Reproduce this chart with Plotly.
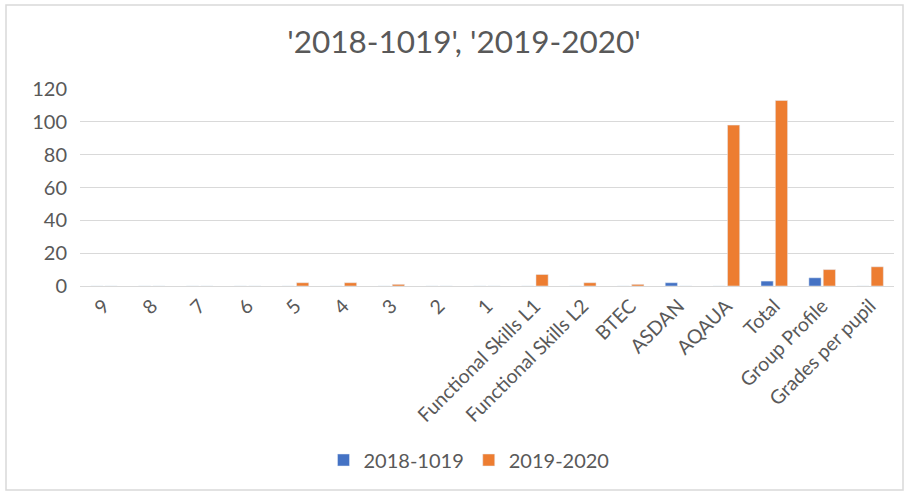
import plotly.graph_objects as go

categories = ["9", "8", "7", "6", "5", "4", "3", "2", "1",
              "Functional Skills L1", "Functional Skills L2", "BTEC", "ASDAN",
              "AQAUA", "Total", "Group Profile", "Grades per pupil"]
series_2018 = [0, 0, 0, 0, 0, 0, 0, 0, 0, 0, 0, 0, 2, 0, 3, 5, 0]
series_2019 = [0, 0, 0, 0, 2, 2, 1, 0, 0, 7, 2, 1, 0, 98, 113, 10, 11.7]
y_ticks = [0, 20, 40, 60, 80, 100, 120]

W, H = 909, 493
L, R, T, B = 80, 15, 89, 207
pw, ph = W - L - R, H - T - B

fig = go.Figure()
fig.add_trace(go.Bar(name="2018-1019", x=categories, y=series_2018,
                     marker=dict(color="#4472C4")))
fig.add_trace(go.Bar(name="2019-2020", x=categories, y=series_2019,
                     marker=dict(color="#ED7D31")))

def px_x(v):
    return (v - L) / pw

def px_y(v):
    return (H - B - v) / ph

fig.update_layout(
    width=W, height=H,
    margin=dict(l=L, r=R, t=T, b=B, autoexpand=False),
    paper_bgcolor="white", plot_bgcolor="white",
    font=dict(family="Lato, Open Sans, sans-serif", color="#595959", size=19),
    title=dict(text="'2018-1019', '2019-2020'", x=px_x(464), xref="paper",
               xanchor="center", y=1 - 42 / H, yanchor="middle",
               font=dict(size=31.5, color="#595959")),
    barmode="group", bargap=0.4, bargroupgap=0.15,
    showlegend=True,
    legend=dict(orientation="h", x=px_x(469), xanchor="center",
                y=px_y(460), yanchor="middle", font=dict(size=20, color="#595959"),
                traceorder="normal"),
    xaxis=dict(tickangle=-45, showgrid=False, showline=True, linecolor="#D9D9D9",
               linewidth=1, ticks="", tickfont=dict(size=19.5, color="#595959")),
    yaxis=dict(range=[0, 120], tickvals=y_ticks, showgrid=True, gridcolor="#D9D9D9",
               zeroline=False, showline=False, ticks="", ticklabelstandoff=12,
               tickfont=dict(size=20, color="#595959")),
    shapes=[dict(type="rect", xref="paper", yref="paper",
                 x0=px_x(6), x1=px_x(903), y0=px_y(490), y1=px_y(5),
                 line=dict(color="#D9D9D9", width=1.5), fillcolor="rgba(0,0,0,0)",
                 layer="below")],
)

fig.write_html("out.html", config={"displayModeBar": False},
               post_script="document.body.style.margin='0';document.body.style.overflow='hidden';")
